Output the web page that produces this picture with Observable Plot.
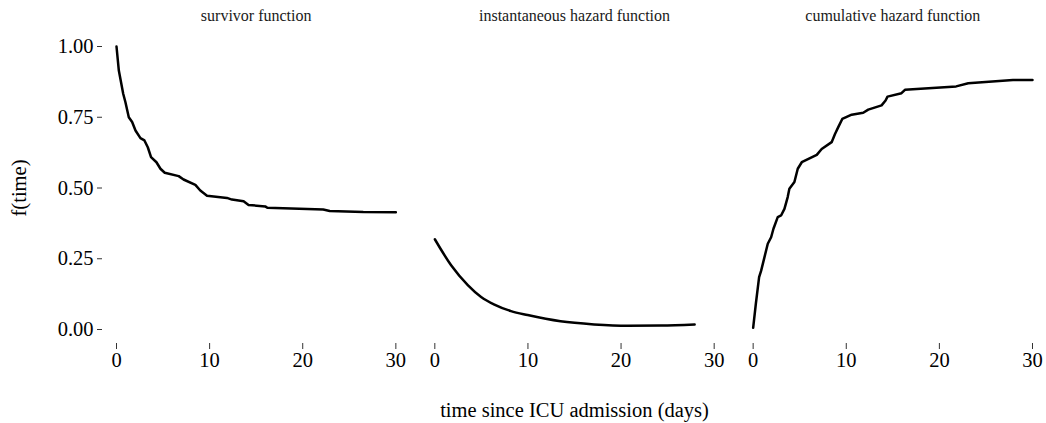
<!DOCTYPE html>
<html><head><meta charset="utf-8">
<script src="https://cdn.jsdelivr.net/npm/d3@7"></script>
<script src="https://cdn.jsdelivr.net/npm/@observablehq/plot@0.6"></script>
<style>body{margin:0;background:#fff}</style>
</head><body><div id="chart"></div>
<script>
const panels = ["survivor function", "instantaneous hazard function", "cumulative hazard function"];
const xTicks = [0, 10, 20, 30];
const yTicks = [0, 0.25, 0.5, 0.75, 1];

const survivorTime = [0, 0.25, 0.72, 0.96, 1.32, 1.68, 2.04, 2.57, 3.0, 3.36, 3.71, 4.29, 4.72, 5.18, 6.68, 7.2, 8.47, 9.0, 9.72, 11.86, 12.4, 13.65, 14.18, 15.97, 16.2, 22.2, 22.9, 26.5, 30];
const survivorValue = [1.0, 0.915, 0.833, 0.803, 0.75, 0.733, 0.703, 0.676, 0.668, 0.644, 0.609, 0.591, 0.568, 0.554, 0.542, 0.53, 0.511, 0.491, 0.473, 0.465, 0.459, 0.453, 0.44, 0.435, 0.43, 0.424, 0.419, 0.415, 0.414];

const hazardTime = [0, 1.75, 3.54, 4.97, 6.4, 8.18, 9.97, 13.5, 17.1, 20.7, 24.3, 27.9];
const hazardValue = [0.319, 0.227, 0.157, 0.115, 0.088, 0.065, 0.051, 0.029, 0.018, 0.013, 0.014, 0.018];

const cumulativeTime = [0, 0.29, 0.64, 0.86, 1.21, 1.57, 1.93, 2.18, 2.64, 3.0, 3.36, 3.71, 3.89, 4.43, 4.79, 5.22, 6.83, 7.36, 8.43, 8.79, 9.14, 9.57, 10.58, 11.82, 12.36, 13.79, 14.22, 14.43, 15.93, 16.3, 21.8, 23.1, 27.9, 30];
const cumulativeValue = [0.006, 0.091, 0.185, 0.208, 0.255, 0.303, 0.326, 0.356, 0.397, 0.403, 0.426, 0.468, 0.497, 0.521, 0.568, 0.591, 0.617, 0.638, 0.662, 0.691, 0.715, 0.744, 0.759, 0.766, 0.777, 0.792, 0.809, 0.823, 0.835, 0.847, 0.859, 0.87, 0.882, 0.882];

const toRows = (panel, ts, vs) => ts.map((t, i) => ({panel, time: t, value: vs[i]}));
const survivorRows = toRows(panels[0], survivorTime, survivorValue);
const hazardRows = toRows(panels[1], hazardTime, hazardValue);
const cumulativeRows = toRows(panels[2], cumulativeTime, cumulativeValue);

const lineStyle = {x: "time", y: "value", fx: "panel", stroke: "#000", strokeWidth: 2.5, strokeLinejoin: "round"};

const plot = Plot.plot({
  width: 1046, height: 423,
  marginLeft: 102, marginRight: 0, marginTop: 32, marginBottom: 80,
  style: {fontFamily: "'Liberation Serif', 'Times New Roman', serif", fontSize: "20.5px", color: "#000", background: "#fff"},
  fx: {domain: panels, paddingInner: 0.0345, paddingOuter: 0, round: false},
  x: {domain: [0, 30], insetLeft: 14, insetRight: 14},
  y: {domain: [0, 1], insetTop: 14, insetBottom: 14},
  marks: [
    Plot.axisFx({anchor: "top", tickSize: 0, tickPadding: 12, fontSize: 16, label: null, fill: "#1a1a1a"}),
    Plot.axisY({ticks: yTicks, tickFormat: d3.format(".2f"), tickSize: 5, tickPadding: 4, stroke: "#333", label: "f(time)", labelAnchor: "center", labelArrow: "none", labelOffset: 91}),
    Plot.axisX({ticks: xTicks, tickSize: 6, tickPadding: 3, stroke: "#333", label: "time since ICU admission (days)", labelAnchor: "center", labelArrow: "none", labelOffset: 73}),
    Plot.line(survivorRows, {...lineStyle, curve: "linear"}),
    Plot.line(hazardRows, {...lineStyle, curve: "monotone-x"}),
    Plot.line(cumulativeRows, {...lineStyle, curve: "linear"})
  ]
});
document.getElementById("chart").append(plot);
</script>
</body></html>
